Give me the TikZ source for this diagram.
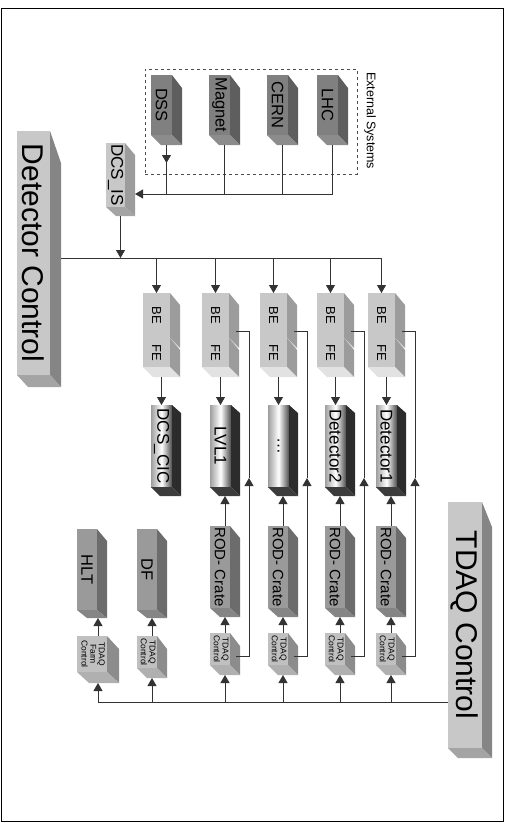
\documentclass[tikz,border=0pt]{standalone}
\usepackage{fontspec}
\setmainfont{Liberation Sans}
\usepackage{graphicx}
\usetikzlibrary{arrows.meta,calc}

\definecolor{extF}{HTML}{808080}
\definecolor{extS}{HTML}{5E5E5E}
\definecolor{extB}{HTML}{8C8C8C}
\definecolor{liteF}{HTML}{C8C8C8}
\definecolor{liteS}{HTML}{9C9C9C}
\definecolor{liteB}{HTML}{E2E2E2}
\definecolor{bigF}{HTML}{C8C8C8}
\definecolor{bigS}{HTML}{858585}
\definecolor{bigB}{HTML}{A4A4A4}
\definecolor{rodF}{HTML}{9A9A9A}
\definecolor{rodS}{HTML}{6C6C6C}
\definecolor{rodB}{HTML}{858585}
\definecolor{tinyF}{HTML}{C0C0C0}
\definecolor{tinyS}{HTML}{8C8C8C}
\definecolor{tinyB}{HTML}{B0B0B0}
\definecolor{cylS}{HTML}{2C2C2C}
\definecolor{cylB}{HTML}{3C3C3C}
\definecolor{wire}{HTML}{333333}

% 3D box: name, kind, top-left, width, height, dx, dy top, dy bottom, text
\newcommand{\cube}[9]{%
  \node[#2,anchor=north west,minimum width=#4pt,minimum height=#5pt] (#1) at (#3) {\rotatebox{-90}{#9}};
  \fill[#2 side] (#1.north east) -- ($(#1.north east)+(#6,#7)$) -- ($(#1.south east)+(#6,#8)$) -- (#1.south east) -- cycle;
  \fill[#2 bottom] (#1.south west) -- (#1.south east) -- ($(#1.south east)+(#6,#8)$) -- ($(#1.south west)+(#6,#8)$) -- cycle;
  \coordinate (#1-b) at ($(#1.south)+(#6/2,#8)$);
}

\begin{document}
\begin{tikzpicture}[x=1pt,y=-1pt,
    face/.style={inner sep=0pt,outer sep=0pt,align=center},
    ext/.style={face,fill=extF,font=\fontsize{16.5}{18}\selectfont},
    ext side/.style={fill=extS},  ext bottom/.style={fill=extB},
    lite/.style={face,fill=liteF,font=\fontsize{13}{15}\selectfont},
    lite side/.style={fill=liteS}, lite bottom/.style={fill=liteB},
    dcis/.style={lite,font=\fontsize{17}{19}\selectfont},
    dcis side/.style={lite side}, dcis bottom/.style={fill=bigB},
    big/.style={face,fill=bigF,font=\fontsize{30}{32}\selectfont},
    big side/.style={fill=bigS},  big bottom/.style={fill=bigB},
    rod/.style={face,fill=rodF,font=\fontsize{15}{17}\selectfont},
    rod side/.style={fill=rodS},  rod bottom/.style={fill=rodB},
    sub/.style={rod,font=\fontsize{16.5}{18}\selectfont},
    sub side/.style={rod side},   sub bottom/.style={rod bottom},
    tiny/.style={face,fill=tinyF,font=\fontsize{8.5}{8.5}\selectfont},
    tiny side/.style={fill=tinyS}, tiny bottom/.style={fill=tinyB},
    cyl/.style={face,left color=black!38,right color=black!70,middle color=white,
                font=\fontsize{17}{19}\selectfont},
    cyl side/.style={fill=cylS},  cyl bottom/.style={fill=cylB},
    wire/.style={draw=wire,line width=0.8pt},
    arr/.style={wire,-{Triangle[length=8pt,width=9pt]}},
  ]
  \useasboundingbox (0,0) rectangle (508,823);
  \draw[line width=0.8pt] (1,8) rectangle (503,821);

  % External systems
  \node[face,draw=black!70,dashed,dash pattern=on 3pt off 3pt,anchor=north west,
        minimum width=212pt,minimum height=105pt] (extsys) at (145,69) {};
  \node[face,anchor=north,font=\fontsize{12.5}{14}\selectfont] (extlbl) at (370,72)
        {\rotatebox{-90}{External Systems}};
  \cube{dss}{ext}{151,75}{21}{60}{10}{13}{10}{DSS}
  \cube{mag}{ext}{209,75}{21}{60}{10}{13}{10}{Magnet}
  \cube{cern}{ext}{267,75}{21}{60}{10}{13}{10}{CERN}
  \cube{lhc}{ext}{317,75}{21}{60}{10}{13}{10}{LHC}
  \cube{dcis}{dcis}{106,143}{19}{64}{10}{12}{9}{DCS\_IS}

  % Control blocks
  \cube{dc}{big}{17,131}{33}{244}{11}{32}{12}{Detector Control}
  \cube{tq}{big}{448,502}{34}{246}{10}{25}{10}{TDAQ Control}

  % Detector columns
  \foreach \i/\x/\name in {1/143/DCS\_CIC,2/202/LVL1,3/260/\ldots,4/317/Detector2,5/368/Detector1}{
    \cube{be\i}{lite}{\x,293}{27}{45}{10}{12}{10}{BE}
    \cube{fe\i}{lite}{\x,338}{27}{29}{10}{12}{10}{FE}
    \cube{cyl\i}{cyl}{\x+8,405}{21}{82}{9}{8}{9}{\name}
  }
  \foreach \i/\x in {2/210,3/268,4/325,5/376}{
    \cube{rod\i}{rod}{\x,526}{20}{82}{10}{12}{9}{ROD- Crate}
    \cube{sm\i}{tiny}{\x,633}{20}{32}{10}{13}{10}{\begin{tabular}{@{}c@{}}TDAQ\\Control\end{tabular}}
  }
  \cube{hlt}{sub}{77,529}{20}{81}{10}{12}{8}{HLT}
  \cube{df}{sub}{137,529}{20}{81}{10}{12}{8}{DF}
  \cube{farm}{tiny}{77,636}{30}{36}{12}{13}{11}{\begin{tabular}{@{}c@{}}TDAQ\\Farm\\Control\end{tabular}}
  \cube{dfc}{tiny}{137,636}{20}{32}{10}{13}{10}{\begin{tabular}{@{}c@{}}TDAQ\\Control\end{tabular}}

  % External systems -> DCS_IS
  \coordinate (dcisE) at (135,194);
  \coordinate (dssarr) at ($(dss-b)+(0,18)$);
  \draw[arr] (dss-b) -- (dssarr);
  \draw[wire] (dss-b) -- (dss-b |- dcisE);
  \draw[wire] (mag-b) -- (mag-b |- dcisE);
  \draw[wire] (cern-b) -- (cern-b |- dcisE);
  \draw[arr] (lhc-b) |- (dcisE);

  % Detector Control bus
  \coordinate (dcbus) at (61,258);
  \draw[arr] (dcis-b) -- (dcis-b |- dcbus);
  \draw[arr] (dcbus) -| (be5.north);
  \foreach \i in {1,...,4}
    \draw[arr] (dcbus -| be\i.north) -- (be\i.north);
  \foreach \i in {1,...,5}
    \draw[arr] (fe\i-b) -- (fe\i-b |- cyl\i.north);

  % TDAQ Control bus
  \coordinate (tqbus) at (448,702);
  \draw[arr] (tqbus) -| (farm-b);
  \draw[arr] (tqbus -| dfc-b) -- (dfc-b);
  \draw[arr] (farm.north -| farm-b) -- (hlt-b -| farm-b);
  \draw[arr] (dfc.north -| dfc-b) -- (df-b -| dfc-b);
  \foreach \i in {2,...,5}{
    \draw[arr] (tqbus -| sm\i-b) -- (sm\i-b);
    \draw[arr] (sm\i.north -| rod\i-b) -- (rod\i-b);
    \draw[arr] (rod\i.north -| cyl\i-b) -- (cyl\i-b);
    % feedback to BE
    \coordinate (loop\i) at ($(be\i.south east)+(20,140)$);
    \draw[arr] ($(sm\i.east)+(6,7)$) -| (loop\i);
    \draw[wire] (loop\i) |- ($(be\i.south east)+(7,-7)$);
  }
\end{tikzpicture}
\end{document}
